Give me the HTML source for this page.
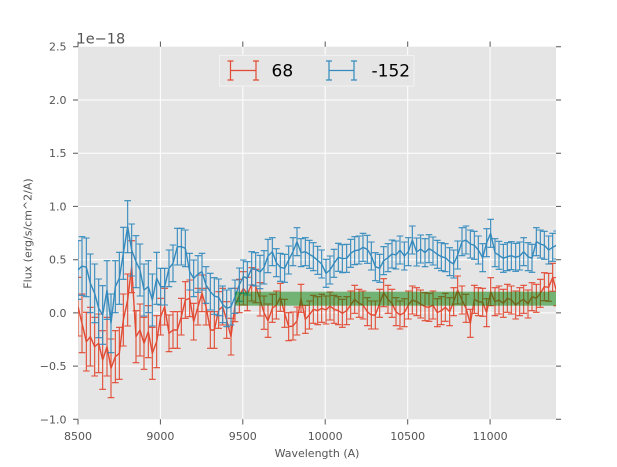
<!DOCTYPE html>
<html><head><meta charset="utf-8"><style>
html,body{margin:0;padding:0;background:#fff;}
svg{display:block;font-family:"DejaVu Sans","Liberation Sans",sans-serif;}
</style></head><body>
<svg width="617" height="467" viewBox="0 0 617 467" xmlns="http://www.w3.org/2000/svg">
<defs>
<clipPath id="clip"><rect x="78" y="46.7" width="478" height="372.6"/></clipPath>
<marker id="r88" markerUnits="userSpaceOnUse" markerWidth="30" markerHeight="200" viewBox="-15 -100 30 200" refX="0" refY="0"><path d="M0,-88V88M-10,-88H10M-10,88H10" stroke="#E24A33" stroke-width="3.3" fill="none"/></marker>
<marker id="r78" markerUnits="userSpaceOnUse" markerWidth="30" markerHeight="200" viewBox="-15 -100 30 200" refX="0" refY="0"><path d="M0,-78V78M-10,-78H10M-10,78H10" stroke="#E24A33" stroke-width="3.3" fill="none"/></marker>
<marker id="r55" markerUnits="userSpaceOnUse" markerWidth="30" markerHeight="200" viewBox="-15 -100 30 200" refX="0" refY="0"><path d="M0,-55V55M-10,-55H10M-10,55H10" stroke="#E24A33" stroke-width="3.3" fill="none"/></marker>
<marker id="r50" markerUnits="userSpaceOnUse" markerWidth="30" markerHeight="200" viewBox="-15 -100 30 200" refX="0" refY="0"><path d="M0,-50V50M-10,-50H10M-10,50H10" stroke="#E24A33" stroke-width="3.3" fill="none"/></marker>
<marker id="r42" markerUnits="userSpaceOnUse" markerWidth="30" markerHeight="200" viewBox="-15 -100 30 200" refX="0" refY="0"><path d="M0,-42V42M-10,-42H10M-10,42H10" stroke="#E24A33" stroke-width="3.3" fill="none"/></marker>
<marker id="b88" markerUnits="userSpaceOnUse" markerWidth="30" markerHeight="200" viewBox="-15 -100 30 200" refX="0" refY="0"><path d="M0,-88V88M-10,-88H10M-10,88H10" stroke="#348ABD" stroke-width="3.3" fill="none"/></marker>
<marker id="b78" markerUnits="userSpaceOnUse" markerWidth="30" markerHeight="200" viewBox="-15 -100 30 200" refX="0" refY="0"><path d="M0,-78V78M-10,-78H10M-10,78H10" stroke="#348ABD" stroke-width="3.3" fill="none"/></marker>
<marker id="b55" markerUnits="userSpaceOnUse" markerWidth="30" markerHeight="200" viewBox="-15 -100 30 200" refX="0" refY="0"><path d="M0,-55V55M-10,-55H10M-10,55H10" stroke="#348ABD" stroke-width="3.3" fill="none"/></marker>
<marker id="b50" markerUnits="userSpaceOnUse" markerWidth="30" markerHeight="200" viewBox="-15 -100 30 200" refX="0" refY="0"><path d="M0,-50V50M-10,-50H10M-10,50H10" stroke="#348ABD" stroke-width="3.3" fill="none"/></marker>
<marker id="b42" markerUnits="userSpaceOnUse" markerWidth="30" markerHeight="200" viewBox="-15 -100 30 200" refX="0" refY="0"><path d="M0,-42V42M-10,-42H10M-10,42H10" stroke="#348ABD" stroke-width="3.3" fill="none"/></marker>
</defs>

<rect x="0" y="0" width="617" height="467" fill="#ffffff"/>
<rect x="78" y="46.7" width="478" height="372.6" fill="#E5E5E5"/>

<!-- grid -->
<g stroke="#ffffff" stroke-width="1" fill="none">
<path d="M160.4,46.7V419.3M242.8,46.7V419.3M325.2,46.7V419.3M407.7,46.7V419.3M490.1,46.7V419.3"/>
<path d="M78,100H556M78,153.2H556M78,206.4H556M78,259.7H556M78,312.9H556M78,366.1H556"/>
</g>

<g clip-path="url(#clip)">
<!-- RED series -->
<g transform="translate(78,190) scale(0.33333)" fill="none">
<polyline stroke="#E24A33" stroke-width="4.2" stroke-linejoin="round" points="0,350 12,400 25,455 37,440 50,470 62,460 74,510 87,470 99,535 112,500 124,490 136,390 149,330 161,230 174,440 186,420 198,460 211,425 223,490 236,455 248,380 260,350 273,430 285,420 298,420 310,380 322,330 335,325 347,395 360,350 372,310 384,350 397,420 409,420 422,360 434,350 446,390 459,440"/>
<polyline stroke="none" marker-start="url(#r88)" marker-mid="url(#r88)" marker-end="url(#r88)" points="0,350 12,400 25,455 37,440 50,470 62,460 74,510 87,470 99,535"/>
<polyline stroke="none" marker-start="url(#r78)" marker-mid="url(#r78)" marker-end="url(#r78)" points="112,500 124,490 136,390 149,330 161,230 174,440 186,420 198,460 211,425 223,490 236,455"/>
<polyline stroke="none" marker-start="url(#r55)" marker-mid="url(#r55)" marker-end="url(#r55)" points="248,380 260,350 273,430 285,420 298,420 310,380 322,330 335,325 347,395 360,350 372,310 384,350 397,420 409,420 422,360 434,350 446,390 459,440"/>
</g>
<g transform="translate(230,190) scale(0.33333)" fill="none">
<polyline stroke="#E24A33" stroke-width="4.2" stroke-linejoin="round" points="15,345 28,318 40,295 52,312 65,283 77,288 90,328 102,368 114,392 127,355 139,345 151,322 164,370 176,410 189,408 201,393 213,325 226,388 238,375 250,358 263,362 275,355 288,360 300,348 312,358 325,362 337,370 350,362 362,345 374,328 387,340 399,345 412,365 424,375 436,375 449,340 461,308 474,328 486,340 498,365"/>
<polyline stroke="none" marker-start="url(#r50)" marker-mid="url(#r50)" marker-end="url(#r50)" points="15,345 28,318 40,295 52,312 65,283 77,288 90,328 102,368 114,392"/>
<polyline stroke="none" marker-start="url(#r42)" marker-mid="url(#r42)" marker-end="url(#r42)" points="127,355 139,345 151,322 164,370 176,410 189,408 201,393 213,325 226,388 238,375 250,358 263,362 275,355 288,360 300,348 312,358 325,362 337,370 350,362 362,345 374,328 387,340 399,345 412,365 424,375 436,375 449,340 461,308 474,328 486,340 498,365"/>
</g>
<g transform="translate(390,190) scale(0.33333)" fill="none">
<polyline stroke="#E24A33" stroke-width="4.2" stroke-linejoin="round" points="30,375 43,368 55,345 67,330 80,335 92,342 105,350 117,352 129,345 142,368 154,362 166,352 179,365 191,335 203,300 216,330 228,355 241,400 253,328 265,335 278,337 290,368 302,305 315,335 327,330 340,340 352,325 364,330 377,345 389,335 401,328 414,342 426,320 439,325 451,310 463,290 476,292 488,262 500,305"/>
<polyline stroke="none" marker-start="url(#r42)" marker-mid="url(#r42)" marker-end="url(#r42)" points="30,375 43,368 55,345 67,330 80,335 92,342 105,350 117,352 129,345 142,368 154,362 166,352 179,365 191,335 203,300 216,330 228,355 241,400 253,328 265,335 278,337 290,368 302,305 315,335 327,330 340,340 352,325 364,330 377,345 389,335 401,328 414,342 426,320 439,325 451,310 463,290 476,292 488,262 500,305"/>
</g>
<path d="M231,336.7L235,305M396,311.7L400,315" stroke="#E24A33" stroke-width="1.4" fill="none"/>

<!-- BLUE series -->
<g transform="translate(78,190) scale(0.33333)" fill="none">
<polyline stroke="#348ABD" stroke-width="4.2" stroke-linejoin="round" points="0,240 12,228 25,232 37,280 50,310 62,355 74,375 87,300 99,400 112,290 124,265 136,190 149,110 161,180 174,215 186,240 198,300 211,290 223,330 236,265 248,290 260,290 273,235 285,220 298,170 310,170 322,175 335,245 347,265 360,252 372,245 384,285 397,305 409,318 422,322 434,343 446,355 459,350"/>
<polyline stroke="none" marker-start="url(#b88)" marker-mid="url(#b88)" marker-end="url(#b88)" points="0,240 12,228 25,232 37,280 50,310 62,355 74,375 87,300 99,400"/>
<polyline stroke="none" marker-start="url(#b78)" marker-mid="url(#b78)" marker-end="url(#b78)" points="112,290 124,265 136,190 149,110 161,180 174,215 186,240 198,300 211,290 223,330 236,265"/>
<polyline stroke="none" marker-start="url(#b55)" marker-mid="url(#b55)" marker-end="url(#b55)" points="248,290 260,290 273,235 285,220 298,170 310,170 322,175 335,245 347,265 360,252 372,245 384,285 397,305 409,318 422,322 434,343 446,355 459,350"/>
</g>
<g transform="translate(230,190) scale(0.33333)" fill="none">
<polyline stroke="#348ABD" stroke-width="4.2" stroke-linejoin="round" points="15,320 28,284 40,260 52,265 65,235 77,238 90,246 102,232 114,198 127,185 139,218 151,232 164,235 176,210 189,185 201,155 213,188 226,185 238,193 250,200 263,211 275,222 288,250 300,240 312,220 325,202 337,206 350,205 362,190 374,182 387,180 399,172 412,178 424,198 436,230 449,235 461,212 474,203 486,192 498,195"/>
<polyline stroke="none" marker-start="url(#b50)" marker-mid="url(#b50)" marker-end="url(#b50)" points="15,320 28,284 40,260 52,265 65,235 77,238 90,246 102,232 114,198"/>
<polyline stroke="none" marker-start="url(#b42)" marker-mid="url(#b42)" marker-end="url(#b42)" points="127,185 139,218 151,232 164,235 176,210 189,185 201,155 213,188 226,185 238,193 250,200 263,211 275,222 288,250 300,240 312,220 325,202 337,206 350,205 362,190 374,182 387,180 399,172 412,178 424,198 436,230 449,235 461,212 474,203 486,192 498,195"/>
</g>
<g transform="translate(390,190) scale(0.33333)" fill="none">
<polyline stroke="#348ABD" stroke-width="4.2" stroke-linejoin="round" points="30,180 43,198 55,185 67,150 80,186 92,177 105,188 117,176 129,183 142,193 154,200 166,203 179,215 191,222 203,195 216,155 228,150 241,162 253,166 265,180 278,203 290,158 302,130 315,188 327,196 340,205 352,200 364,197 377,202 389,198 401,185 414,200 426,205 439,155 451,162 463,166 476,180 488,172 500,165"/>
<polyline stroke="none" marker-start="url(#b42)" marker-mid="url(#b42)" marker-end="url(#b42)" points="30,180 43,198 55,185 67,150 80,186 92,177 105,188 117,176 129,183 142,193 154,200 166,203 179,215 191,222 203,195 216,155 228,150 241,162 253,166 265,180 278,203 290,158 302,130 315,188 327,196 340,205 352,200 364,197 377,202 389,198 401,185 414,200 426,205 439,155 451,162 463,166 476,180 488,172 500,165"/>
</g>
<path d="M231,306.7L235,296.7M396,255L400,250" stroke="#348ABD" stroke-width="1.4" fill="none"/>

<!-- green band -->
<rect x="235.3" y="291.7" width="320.7" height="14" fill="#008000" fill-opacity="0.5"/>
</g>

<!-- ticks -->
<g stroke="#555555" stroke-width="1" fill="none">
<path d="M73,46.7H78M73,100H78M73,153.2H78M73,206.4H78M73,259.7H78M73,312.9H78M73,366.1H78M73,419.3H78"/>
<path d="M556,46.7H561M556,100H561M556,153.2H561M556,206.4H561M556,259.7H561M556,312.9H561M556,366.1H561M556,419.3H561"/>
<path d="M78,419.3V424.5M160.4,419.3V424.5M242.8,419.3V424.5M325.2,419.3V424.5M407.7,419.3V424.5M490.1,419.3V424.5"/>
<path d="M78,41.5V46.7M160.4,41.5V46.7M242.8,41.5V46.7M325.2,41.5V46.7M407.7,41.5V46.7M490.1,41.5V46.7"/>
</g>

<!-- tick labels -->
<g fill="#555555" font-size="11" text-anchor="end">
<text x="66.5" y="50.7">2.5</text>
<text x="66.5" y="104">2.0</text>
<text x="66.5" y="157.2">1.5</text>
<text x="66.5" y="210.4">1.0</text>
<text x="66.5" y="263.7">0.5</text>
<text x="66.5" y="316.9">0.0</text>
<text x="66.5" y="370.1">−0.5</text>
<text x="66.5" y="423.3">−1.0</text>
</g>
<g fill="#555555" font-size="11" text-anchor="middle">
<text x="78" y="440">8500</text>
<text x="160.4" y="440">9000</text>
<text x="242.8" y="440">9500</text>
<text x="325.2" y="440">10000</text>
<text x="407.7" y="440">10500</text>
<text x="490.1" y="440">11000</text>
</g>
<text x="76.5" y="43.3" fill="#555555" font-size="14.5">1e−18</text>
<text x="317" y="457" fill="#555555" font-size="11" text-anchor="middle">Wavelength (A)</text>
<text transform="translate(31.5,233.5) rotate(-90)" fill="#555555" font-size="11" text-anchor="middle">Flux (erg/s/cm^2/A)</text>

<!-- legend -->
<rect x="219.5" y="55.5" width="194.5" height="30.5" fill="#E5E5E5" stroke="#f2f2f2" stroke-width="1"/>
<g stroke="#E24A33" stroke-width="1.2" fill="none">
<path d="M230.5,70.5H256M230.5,61V80M256,61V80M227.5,61H233.5M227.5,80H233.5M253,61H259M253,80H259"/>
</g>
<g stroke="#348ABD" stroke-width="1.2" fill="none">
<path d="M329,70.5H354M329,61V80M354,61V80M326,61H332M326,80H332M351,61H357M351,80H357"/>
</g>
<text x="271.5" y="76.5" font-size="17" fill="#000000">68</text>
<text x="371.5" y="76.5" font-size="17" fill="#000000">-152</text>
</svg>
</body></html>
